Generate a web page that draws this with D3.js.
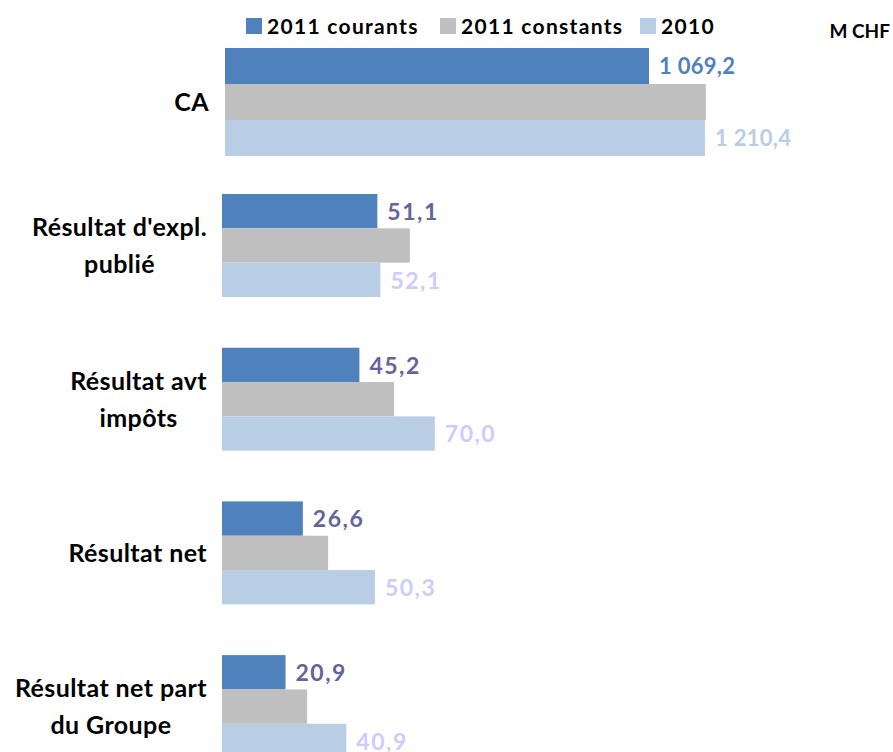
<!DOCTYPE html>
<html>
<head>
<meta charset="utf-8">
<script src="https://cdn.jsdelivr.net/npm/d3@7"></script>
<style>
  html, body { margin: 0; padding: 0; background: #ffffff; }
  svg { display: block; }
  text { font-family: "Lato", "Open Sans", sans-serif; font-weight: bold; }
</style>
</head>
<body>
<svg id="chart" width="893" height="752"></svg>
<script>
// Series and categories (M CHF)
const seriesNames = ["2011 courants", "2011 constants", "2010"];
const seriesColors = ["#4F81BD", "#BFBFBF", "#B9CDE5"];

// Revenue panel (own scale)
const caCategories = ["CA"];
const caCourants = [1069.2];
const caConstants = [1212.5];
const ca2010 = [1210.4];
const caLabelColors = ["#4F81BD", null, "#B9CDE5"];

// Results panel
const resCategories = [
  ["Résultat d'expl.", "publié"],
  ["Résultat avt", "impôts"],
  ["Résultat net"],
  ["Résultat net part", "du Groupe"]
];
const resCourants = [51.1, 45.2, 26.6, 20.9];
const resConstants = [61.8, 56.6, 34.9, 28.0];
const res2010 = [52.1, 70.0, 50.3, 40.9];
const resLabelColors = ["#64649B", null, "#CCCCFF"];

const unitLabel = "M CHF";

const fmt = v => {
  const s = d3.format(",.1f")(v);
  return s.replace(/,/g, " ").replace(".", ",");
};

const svg = d3.select("#chart");

function drawPanel(opts) {
  const { cats, values, x, yRange, padInner, labelColors, labelSize, labelSpacing, catRight } = opts;
  const keys = cats.map((c, i) => i);
  const y = d3.scaleBand().domain(keys).range(yRange).paddingInner(padInner).paddingOuter(0);
  const ySub = d3.scaleBand().domain(d3.range(seriesNames.length)).range([0, y.bandwidth()]);

  const g = svg.append("g");
  const groups = g.selectAll("g.cat").data(keys).join("g")
    .attr("class", "cat")
    .attr("transform", i => `translate(0,${y(i)})`);

  groups.each(function (i) {
    const grp = d3.select(this);
    values.forEach((arr, s) => {
      grp.append("rect")
        .attr("x", x(0))
        .attr("y", ySub(s))
        .attr("width", x(arr[i]) - x(0))
        .attr("height", ySub.bandwidth())
        .attr("fill", seriesColors[s]);
      if (labelColors[s]) {
        grp.append("text")
          .attr("x", x(arr[i]) + 10)
          .attr("y", ySub(s) + ySub.bandwidth() / 2)
          .attr("dy", "0.38em")
          .attr("fill", labelColors[s])
          .style("font-size", labelSize + "px")
          .style("letter-spacing", labelSpacing + "px")
          .text(fmt(arr[i]));
      }
    });

    // category label: lines centred on each other, block right-aligned
    const lines = cats[i];
    const lineH = 37;
    const cy = y.bandwidth() / 2;
    const txt = grp.append("text")
      .attr("fill", "#000")
      .style("font-size", "25px")
      .style("letter-spacing", "0.4px")
      .attr("text-anchor", "middle");
    const tspans = lines.map((ln, k) => txt.append("tspan")
      .attr("y", cy + (k - (lines.length - 1) / 2) * lineH)
      .attr("dy", "0.36em")
      .text(ln));
    const w = d3.max(tspans, t => t.node().getComputedTextLength());
    tspans.forEach(t => t.attr("x", catRight - w / 2));
  });
}

// Revenue panel
const xCA = d3.scaleLinear().domain([0, 1300]).range([225, 740.5]);
drawPanel({
  cats: [[caCategories[0]]],
  values: [caCourants, caConstants, ca2010],
  x: xCA,
  yRange: [48, 156],
  padInner: 0,
  labelColors: caLabelColors,
  labelSize: 22,
  labelSpacing: 0.3,
  catRight: 209
});

// Results panel
const xRes = d3.scaleLinear().domain([0, 80]).range([222, 465.2]);
drawPanel({
  cats: resCategories,
  values: [resCourants, resConstants, res2010],
  x: xRes,
  yRange: [194, 758.1],
  padInner: 0.33,
  labelColors: resLabelColors,
  labelSize: 23,
  labelSpacing: 1.5,
  catRight: 207
});

// Legend
const legendX = [246, 440, 640];
const legend = svg.append("g");
seriesNames.forEach((name, s) => {
  legend.append("rect")
    .attr("x", legendX[s]).attr("y", 18)
    .attr("width", 16).attr("height", 16)
    .attr("fill", seriesColors[s]);
  legend.append("text")
    .attr("x", legendX[s] + 21).attr("y", 26)
    .attr("dy", "0.36em")
    .style("font-size", "21px")
    .style("letter-spacing", "1.3px")
    .attr("fill", "#000")
    .text(name);
});

svg.append("text")
  .attr("x", 890).attr("y", 31)
  .attr("dy", "0.36em")
  .attr("text-anchor", "end")
  .style("font-size", "19px")
  .attr("fill", "#000")
  .text(unitLabel);
</script>
</body>
</html>
